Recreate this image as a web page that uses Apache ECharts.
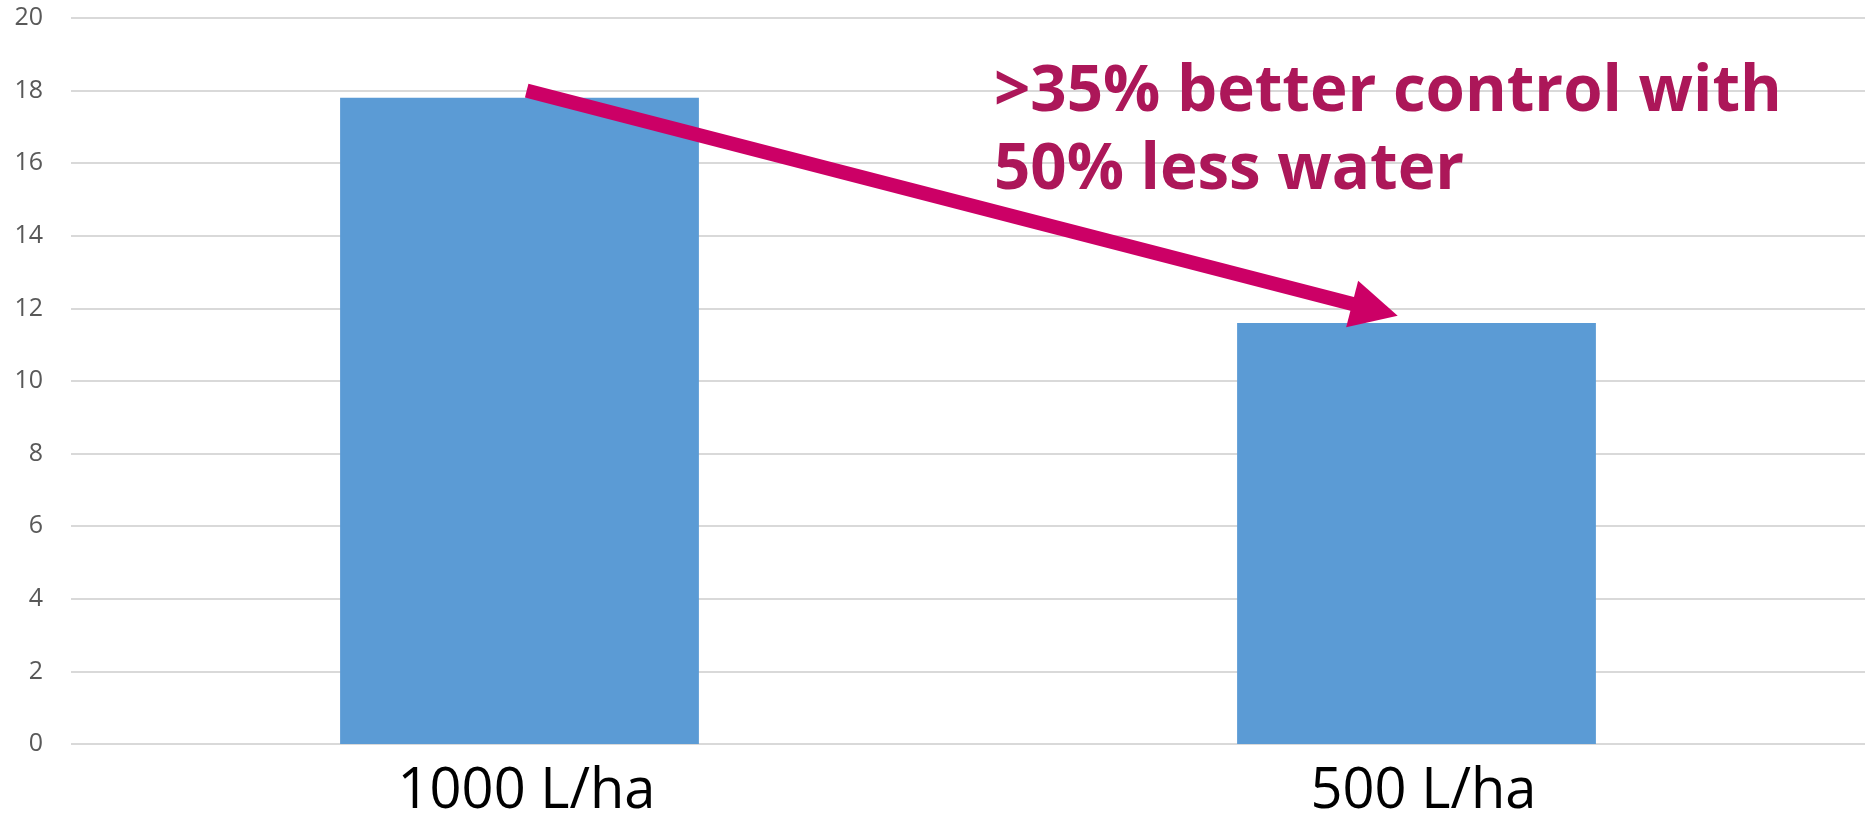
<!DOCTYPE html>
<html>
<head>
<meta charset="utf-8">
<script src="https://cdn.jsdelivr.net/npm/echarts@6/dist/echarts.min.js"></script>
<style>
html,body{margin:0;padding:0;background:#fff;}
#main{width:1876px;height:820px;}
</style>
</head>
<body>
<div id="main"></div>
<script>
// ---- data ----
const categories = ['1000 L/ha', '500 L/ha'];
const values = [17.8, 11.6];
const yTicks = { min: 0, max: 20, interval: 2 };
const annotationText = '>35% better control with\n50% less water';
// arrow in data space: [fraction between category 0 and 1, y value]
const arrowStart = [0.008, 18.0];
const arrowEnd = [0.979, 11.8];

const chart = echarts.init(document.getElementById('main'), null, { renderer: 'canvas' });

chart.setOption({
  animation: false,
  backgroundColor: '#ffffff',
  grid: { left: 71, right: 11, top: 18, bottom: 74, containLabel: false },
  xAxis: {
    type: 'category',
    data: categories,
    axisLine: { show: false },
    axisTick: { show: false },
    axisLabel: {
      margin: 20,
      fontFamily: 'Open Sans',
      fontSize: 56,
      color: '#000000',
      padding: [0, 0, 0, 14]
    }
  },
  yAxis: {
    type: 'value',
    min: yTicks.min,
    max: yTicks.max,
    interval: yTicks.interval,
    axisLine: { show: false },
    axisTick: { show: false },
    axisLabel: {
      margin: 28,
      fontFamily: 'Open Sans',
      fontSize: 25,
      color: '#595959'
    },
    splitLine: { lineStyle: { color: '#d9d9d9', width: 2 } }
  },
  series: [{
    type: 'bar',
    data: values,
    barWidth: '40%',
    itemStyle: { color: '#5B9BD5' }
  }]
});

function buildAnnotation() {
  const c0 = chart.convertToPixel({ seriesIndex: 0 }, [0, arrowStart[1]]);
  const c1 = chart.convertToPixel({ seriesIndex: 0 }, [1, arrowStart[1]]);
  const e0 = chart.convertToPixel({ seriesIndex: 0 }, [0, arrowEnd[1]]);
  const px = t => c0[0] + (c1[0] - c0[0]) * t;
  const S = [px(arrowStart[0]), c0[1]];
  const T = [px(arrowEnd[0]), e0[1]];
  const dx = T[0] - S[0], dy = T[1] - S[1];
  const len = Math.sqrt(dx * dx + dy * dy);
  const ux = dx / len, uy = dy / len;
  const headLen = 47, headHalf = 24;
  const B = [T[0] - ux * headLen, T[1] - uy * headLen];
  const nx = -uy, ny = ux;
  const P1 = [B[0] + nx * headHalf, B[1] + ny * headHalf];
  const P2 = [B[0] - nx * headHalf, B[1] - ny * headHalf];
  const lineEnd = [B[0] + ux * 4, B[1] + uy * 4];

  chart.setOption({
    graphic: [
      {
        type: 'line',
        shape: { x1: S[0], y1: S[1], x2: lineEnd[0], y2: lineEnd[1] },
        style: { stroke: '#CC0066', lineWidth: 14, lineCap: 'butt' },
        z: 10
      },
      {
        type: 'polygon',
        shape: { points: [T, P1, P2] },
        style: { fill: '#CC0066' },
        z: 10
      },
      {
        type: 'text',
        left: 994,
        top: 54,
        style: {
          text: annotationText,
          fontFamily: 'Open Sans',
          fontWeight: 'bold',
          fontSize: 63.6,
          lineHeight: 78,
          fill: '#AC1759'
        },
        z: 11
      }
    ]
  });
}
buildAnnotation();
</script>
</body>
</html>
